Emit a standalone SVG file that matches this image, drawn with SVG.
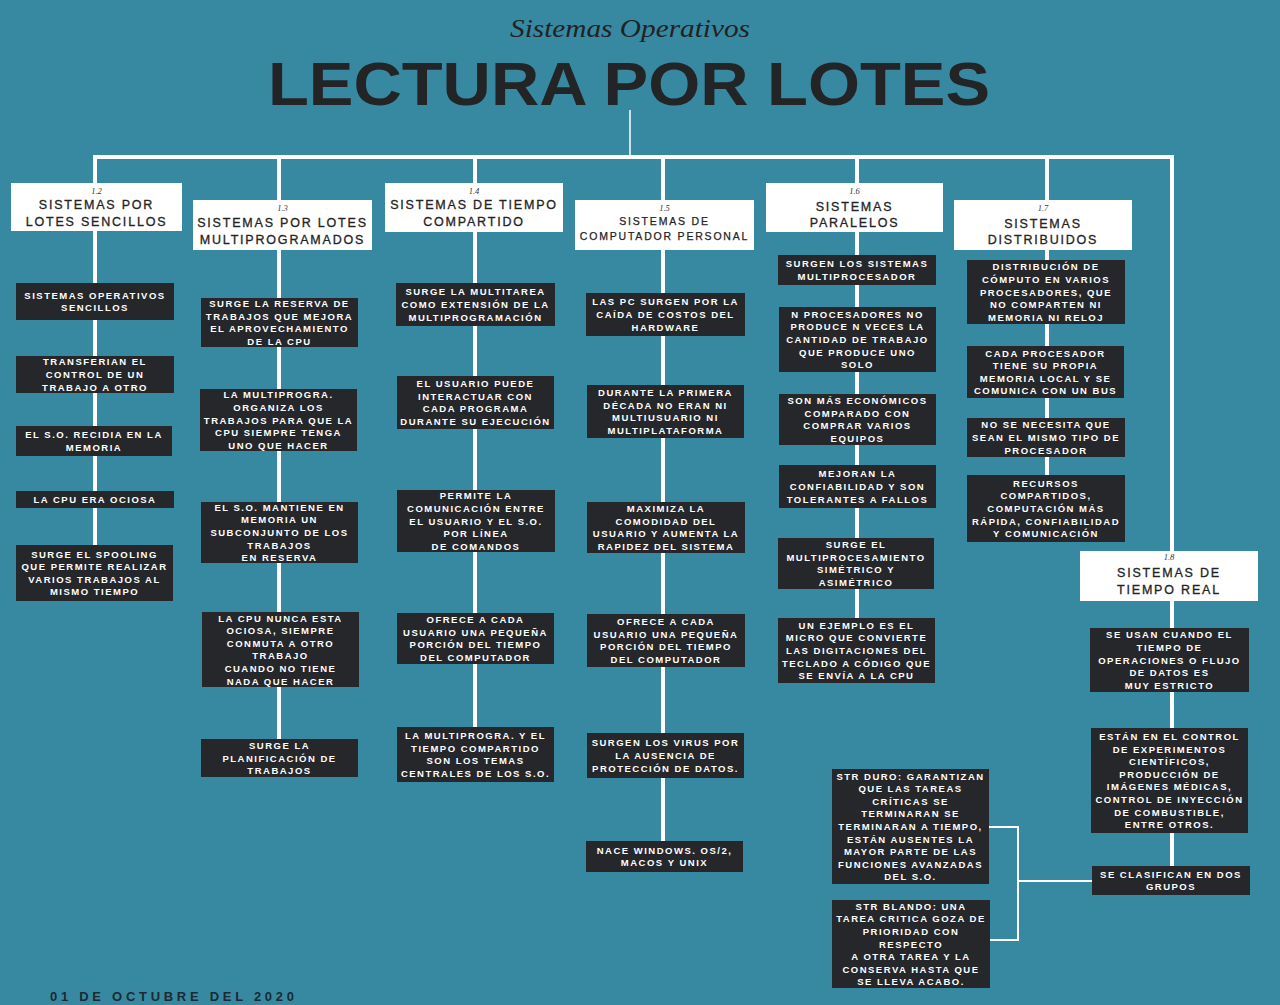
<svg xmlns="http://www.w3.org/2000/svg" width="1280" height="1005" viewBox="0 0 1280 1005">
<style>
.hdr{fill:#ffffff}
.box{fill:#25272b}
.ht{font-family:"Liberation Sans",Arial,sans-serif;font-size:12.5px;fill:#232323;stroke:#232323;stroke-width:0.3px;letter-spacing:1.8px;text-anchor:middle}
.ht2{font-family:"Liberation Sans",Arial,sans-serif;font-size:10.5px;fill:#232323;stroke:#232323;stroke-width:0.25px;letter-spacing:1.8px;text-anchor:middle}
.num{font-family:"Liberation Serif","Times New Roman",serif;font-style:italic;font-size:8.5px;fill:#333;text-anchor:middle}
.bt{font-family:"Liberation Sans",Arial,sans-serif;font-weight:bold;font-size:9.5px;fill:#ffffff;letter-spacing:1.5px;text-anchor:middle}
.ln{stroke:#ffffff;stroke-width:4;fill:none}
.thin{stroke:#ffffff;stroke-width:2;fill:none}
</style>
<rect x="0" y="0" width="1280" height="1005" fill="#3789a2"/>
<g id="title">
<text x="630" y="37" font-family="Liberation Serif,'Times New Roman',serif" font-style="italic" font-size="25" fill="#222" text-anchor="middle" textLength="240" lengthAdjust="spacingAndGlyphs">Sistemas Operativos</text>
<text x="268" y="105" font-family="Liberation Sans,Arial,sans-serif" font-weight="bold" font-size="61" fill="#222426" textLength="722" lengthAdjust="spacingAndGlyphs">LECTURA POR LOTES</text>
</g>
<g id="connectors">
<line class="thin" x1="630" y1="110" x2="630" y2="156" style="stroke-width:1.5"/>
<line class="ln" x1="93" y1="157" x2="1174" y2="157"/>
<line class="ln" x1="95" y1="157" x2="95" y2="590"/>
<line class="ln" x1="279" y1="157" x2="279" y2="770"/>
<line class="ln" x1="475" y1="157" x2="475" y2="770"/>
<line class="ln" x1="663" y1="157" x2="663" y2="860"/>
<line class="ln" x1="857" y1="157" x2="857" y2="670"/>
<line class="ln" x1="1047" y1="157" x2="1047" y2="530"/>
<line class="ln" x1="1172" y1="157" x2="1172" y2="880"/>
<polyline class="thin" points="989,827 1018,827 1018,940 990,940"/>
<line class="thin" x1="1018" y1="881" x2="1092" y2="881"/>
</g>
<g id="h12"><rect class="hdr" x="11" y="183" width="171" height="48"/><text class="num" x="96.5" y="194">1.2</text><text class="ht" x="96.5" y="209">SISTEMAS POR</text><text class="ht" x="96.5" y="226">LOTES SENCILLOS</text></g>
<g id="h13"><rect class="hdr" x="193" y="200" width="179" height="50"/><text class="num" x="282.5" y="211">1.3</text><text class="ht" x="282.5" y="227">SISTEMAS POR LOTES</text><text class="ht" x="282.5" y="244">MULTIPROGRAMADOS</text></g>
<g id="h14"><rect class="hdr" x="385" y="183" width="178" height="49"/><text class="num" x="474" y="194">1.4</text><text class="ht" x="474" y="209">SISTEMAS DE TIEMPO</text><text class="ht" x="474" y="226">COMPARTIDO</text></g>
<g id="h15"><rect class="hdr" x="575" y="200" width="179" height="50"/><text class="num" x="664.5" y="211">1.5</text><text class="ht2" x="664.5" y="225">SISTEMAS DE</text><text class="ht2" x="664.5" y="240">COMPUTADOR PERSONAL</text></g>
<g id="h16"><rect class="hdr" x="766" y="183" width="177" height="49"/><text class="num" x="854.5" y="194">1.6</text><text class="ht" x="854.5" y="211">SISTEMAS</text><text class="ht" x="854.5" y="227">PARALELOS</text></g>
<g id="h17"><rect class="hdr" x="954" y="200" width="178" height="50"/><text class="num" x="1043" y="211">1.7</text><text class="ht" x="1043" y="228">SISTEMAS</text><text class="ht" x="1043" y="244">DISTRIBUIDOS</text></g>
<g id="h18"><rect class="hdr" x="1080" y="551" width="178" height="50"/><text class="num" x="1169" y="560">1.8</text><text class="ht" x="1169" y="577">SISTEMAS DE</text><text class="ht" x="1169" y="594">TIEMPO REAL</text></g>

<g id="c1b1"><rect class="box" x="16" y="283" width="158" height="37"/><text class="bt" x="95" y="298.7"><tspan x="95">SISTEMAS OPERATIVOS</tspan><tspan x="95" dy="12.6">SENCILLOS</tspan></text></g>
<g id="c1b2"><rect class="box" x="16" y="356" width="158" height="37"/><text class="bt" x="95" y="365.4"><tspan x="95">TRANSFERIAN EL</tspan><tspan x="95" dy="12.6">CONTROL DE UN</tspan><tspan x="95" dy="12.6">TRABAJO A OTRO</tspan></text></g>
<g id="c1b3"><rect class="box" x="16" y="426" width="156" height="30"/><text class="bt" x="94" y="438.2"><tspan x="94">EL S.O. RECIDIA EN LA</tspan><tspan x="94" dy="12.6">MEMORIA</tspan></text></g>
<g id="c1b4"><rect class="box" x="16" y="491" width="158" height="17"/><text class="bt" x="95" y="503">LA CPU ERA OCIOSA</text></g>
<g id="c1b5"><rect class="box" x="16" y="545" width="157" height="56"/><text class="bt" x="94.5" y="557.6"><tspan x="94.5">SURGE EL SPOOLING</tspan><tspan x="94.5" dy="12.6">QUE PERMITE REALIZAR</tspan><tspan x="94.5" dy="12.6">VARIOS TRABAJOS AL</tspan><tspan x="94.5" dy="12.6">MISMO TIEMPO</tspan></text></g>

<g id="c2b1"><rect class="box" x="201" y="298" width="157" height="49"/><text class="bt" y="307.1"><tspan x="279.5">SURGE LA RESERVA DE</tspan><tspan x="279.5" dy="12.6">TRABAJOS QUE MEJORA</tspan><tspan x="279.5" dy="12.6">EL APROVECHAMIENTO</tspan><tspan x="279.5" dy="12.6">DE LA CPU</tspan></text></g>
<g id="c2b2"><rect class="box" x="200" y="389" width="157" height="62"/><text class="bt" y="398.3"><tspan x="278.5">LA MULTIPROGRA.</tspan><tspan x="278.5" dy="12.6">ORGANIZA LOS</tspan><tspan x="278.5" dy="12.6">TRABAJOS PARA QUE LA</tspan><tspan x="278.5" dy="12.6">CPU SIEMPRE TENGA</tspan><tspan x="278.5" dy="12.6">UNO QUE HACER</tspan></text></g>
<g id="c2b3"><rect class="box" x="201" y="502" width="157" height="61"/><text class="bt" y="510.8"><tspan x="279.5">EL S.O. MANTIENE EN</tspan><tspan x="279.5" dy="12.6">MEMORIA UN</tspan><tspan x="279.5" dy="12.6">SUBCONJUNTO DE LOS</tspan><tspan x="279.5" dy="12.6">TRABAJOS</tspan><tspan x="279.5" dy="12.6">EN RESERVA</tspan></text></g>
<g id="c2b4"><rect class="box" x="202" y="612" width="157" height="75"/><text class="bt" y="621.5"><tspan x="280.5">LA CPU NUNCA ESTA</tspan><tspan x="280.5" dy="12.6">OCIOSA, SIEMPRE</tspan><tspan x="280.5" dy="12.6">CONMUTA A OTRO</tspan><tspan x="280.5" dy="12.6">TRABAJO</tspan><tspan x="280.5" dy="12.6">CUANDO NO TIENE</tspan><tspan x="280.5" dy="12.6">NADA QUE HACER</tspan></text></g>
<g id="c2b5"><rect class="box" x="201" y="739" width="157" height="38"/><text class="bt" y="748.9"><tspan x="279.5">SURGE LA</tspan><tspan x="279.5" dy="12.6">PLANIFICACIÓN DE</tspan><tspan x="279.5" dy="12.6">TRABAJOS</tspan></text></g>

<g id="c3b1"><rect class="box" x="396" y="283" width="159" height="43"/><text class="bt" y="295.4"><tspan x="475.5">SURGE LA MULTITAREA</tspan><tspan x="475.5" dy="12.6">COMO EXTENSIÓN DE LA</tspan><tspan x="475.5" dy="12.6">MULTIPROGRAMACIÓN</tspan></text></g>
<g id="c3b2"><rect class="box" x="397" y="376" width="157" height="53"/><text class="bt" y="387.1"><tspan x="475.5">EL USUARIO PUEDE</tspan><tspan x="475.5" dy="12.6">INTERACTUAR CON</tspan><tspan x="475.5" dy="12.6">CADA PROGRAMA</tspan><tspan x="475.5" dy="12.6">DURANTE SU EJECUCIÓN</tspan></text></g>
<g id="c3b3"><rect class="box" x="397" y="490" width="158" height="62"/><text class="bt" y="499.3"><tspan x="476">PERMITE LA</tspan><tspan x="476" dy="12.6">COMUNICACIÓN ENTRE</tspan><tspan x="476" dy="12.6">EL USUARIO Y EL S.O.</tspan><tspan x="476" dy="12.6">POR LÍNEA</tspan><tspan x="476" dy="12.6">DE COMANDOS</tspan></text></g>
<g id="c3b4"><rect class="box" x="397" y="613" width="157" height="51"/><text class="bt" y="623.1"><tspan x="475.5">OFRECE A CADA</tspan><tspan x="475.5" dy="12.6">USUARIO UNA PEQUEÑA</tspan><tspan x="475.5" dy="12.6">PORCIÓN DEL TIEMPO</tspan><tspan x="475.5" dy="12.6">DEL COMPUTADOR</tspan></text></g>
<g id="c3b5"><rect class="box" x="397" y="727" width="157" height="55"/><text class="bt" y="739.1"><tspan x="475.5">LA MULTIPROGRA. Y EL</tspan><tspan x="475.5" dy="12.6">TIEMPO COMPARTIDO</tspan><tspan x="475.5" dy="12.6">SON LOS TEMAS</tspan><tspan x="475.5" dy="12.6">CENTRALES DE LOS S.O.</tspan></text></g>

<g id="c4b1"><rect class="box" x="586" y="293" width="159" height="43"/><text class="bt" y="305.4"><tspan x="665.5">LAS PC SURGEN POR LA</tspan><tspan x="665.5" dy="12.6">CAÍDA DE COSTOS DEL</tspan><tspan x="665.5" dy="12.6">HARDWARE</tspan></text></g>
<g id="c4b2"><rect class="box" x="587" y="385" width="157" height="53"/><text class="bt" y="396.1"><tspan x="665.5">DURANTE LA PRIMERA</tspan><tspan x="665.5" dy="12.6">DÉCADA NO ERAN NI</tspan><tspan x="665.5" dy="12.6">MULTIUSUARIO NI</tspan><tspan x="665.5" dy="12.6">MULTIPLATAFORMA</tspan></text></g>
<g id="c4b3"><rect class="box" x="587" y="502" width="158" height="51"/><text class="bt" y="512.1"><tspan x="666">MAXIMIZA LA</tspan><tspan x="666" dy="12.6">COMODIDAD DEL</tspan><tspan x="666" dy="12.6">USUARIO Y AUMENTA LA</tspan><tspan x="666" dy="12.6">RAPIDEZ DEL SISTEMA</tspan></text></g>
<g id="c4b4"><rect class="box" x="587" y="614" width="158" height="53"/><text class="bt" y="625.1"><tspan x="666">OFRECE A CADA</tspan><tspan x="666" dy="12.6">USUARIO UNA PEQUEÑA</tspan><tspan x="666" dy="12.6">PORCIÓN DEL TIEMPO</tspan><tspan x="666" dy="12.6">DEL COMPUTADOR</tspan></text></g>
<g id="c4b5"><rect class="box" x="587" y="733" width="157" height="45"/><text class="bt" y="746.4"><tspan x="665.5">SURGEN LOS VIRUS POR</tspan><tspan x="665.5" dy="12.6">LA AUSENCIA DE</tspan><tspan x="665.5" dy="12.6">PROTECCIÓN DE DATOS.</tspan></text></g>
<g id="c4b6"><rect class="box" x="586" y="841" width="157" height="31"/><text class="bt" y="853.7"><tspan x="664.5">NACE WINDOWS. OS/2,</tspan><tspan x="664.5" dy="12.6">MACOS Y UNIX</tspan></text></g>

<g id="c5b1"><rect class="box" x="778" y="255" width="158" height="30"/><text class="bt" y="267.2"><tspan x="857">SURGEN LOS SISTEMAS</tspan><tspan x="857" dy="12.6">MULTIPROCESADOR</tspan></text></g>
<g id="c5b2"><rect class="box" x="779" y="307" width="157" height="65"/><text class="bt" y="317.8"><tspan x="857.5">N PROCESADORES NO</tspan><tspan x="857.5" dy="12.6">PRODUCE N VECES LA</tspan><tspan x="857.5" dy="12.6">CANTIDAD DE TRABAJO</tspan><tspan x="857.5" dy="12.6">QUE PRODUCE UNO</tspan><tspan x="857.5" dy="12.6">SOLO</tspan></text></g>
<g id="c5b3"><rect class="box" x="779" y="394" width="157" height="51"/><text class="bt" y="404.1"><tspan x="857.5">SON MÁS ECONÓMICOS</tspan><tspan x="857.5" dy="12.6">COMPARADO CON</tspan><tspan x="857.5" dy="12.6">COMPRAR VARIOS</tspan><tspan x="857.5" dy="12.6">EQUIPOS</tspan></text></g>
<g id="c5b4"><rect class="box" x="779" y="465" width="157" height="43"/><text class="bt" y="477.4"><tspan x="857.5">MEJORAN LA</tspan><tspan x="857.5" dy="12.6">CONFIABILIDAD Y SON</tspan><tspan x="857.5" dy="12.6">TOLERANTES A FALLOS</tspan></text></g>
<g id="c5b5"><rect class="box" x="778" y="538" width="156" height="51"/><text class="bt" y="548.1"><tspan x="856">SURGE EL</tspan><tspan x="856" dy="12.6">MULTIPROCESAMIENTO</tspan><tspan x="856" dy="12.6">SIMÉTRICO Y</tspan><tspan x="856" dy="12.6">ASIMÉTRICO</tspan></text></g>
<g id="c5b6"><rect class="box" x="778" y="618" width="157" height="65"/><text class="bt" y="628.8"><tspan x="856.5">UN EJEMPLO ES EL</tspan><tspan x="856.5" dy="12.6">MICRO QUE CONVIERTE</tspan><tspan x="856.5" dy="12.6">LAS DIGITACIONES DEL</tspan><tspan x="856.5" dy="12.6">TECLADO A CÓDIGO QUE</tspan><tspan x="856.5" dy="12.6">SE ENVÍA A LA CPU</tspan></text></g>

<g id="c6b1"><rect class="box" x="967" y="260" width="158" height="64"/><text class="bt" y="270.3"><tspan x="1046">DISTRIBUCIÓN DE</tspan><tspan x="1046" dy="12.6">CÓMPUTO EN VARIOS</tspan><tspan x="1046" dy="12.6">PROCESADORES, QUE</tspan><tspan x="1046" dy="12.6">NO COMPARTEN NI</tspan><tspan x="1046" dy="12.6">MEMORIA NI RELOJ</tspan></text></g>
<g id="c6b2"><rect class="box" x="967" y="346" width="157" height="52"/><text class="bt" y="356.6"><tspan x="1045.5">CADA PROCESADOR</tspan><tspan x="1045.5" dy="12.6">TIENE SU PROPIA</tspan><tspan x="1045.5" dy="12.6">MEMORIA LOCAL Y SE</tspan><tspan x="1045.5" dy="12.6">COMUNICA CON UN BUS</tspan></text></g>
<g id="c6b3"><rect class="box" x="967" y="418" width="158" height="39"/><text class="bt" y="428.4"><tspan x="1046">NO SE NECESITA QUE</tspan><tspan x="1046" dy="12.6">SEAN EL MISMO TIPO DE</tspan><tspan x="1046" dy="12.6">PROCESADOR</tspan></text></g>
<g id="c6b4"><rect class="box" x="967" y="475" width="158" height="67"/><text class="bt" y="486.8"><tspan x="1046">RECURSOS</tspan><tspan x="1046" dy="12.6">COMPARTIDOS,</tspan><tspan x="1046" dy="12.6">COMPUTACIÓN MÁS</tspan><tspan x="1046" dy="12.6">RÁPIDA, CONFIABILIDAD</tspan><tspan x="1046" dy="12.6">Y COMUNICACIÓN</tspan></text></g>

<g id="c7b1"><rect class="box" x="1090" y="628" width="159" height="64"/><text class="bt" y="638.3"><tspan x="1169.5">SE USAN CUANDO EL</tspan><tspan x="1169.5" dy="12.6">TIEMPO DE</tspan><tspan x="1169.5" dy="12.6">OPERACIONES O FLUJO</tspan><tspan x="1169.5" dy="12.6">DE DATOS ES</tspan><tspan x="1169.5" dy="12.6">MUY ESTRICTO</tspan></text></g>
<g id="c7b2"><rect class="box" x="1091" y="728" width="157" height="105"/><text class="bt" y="739.9"><tspan x="1169.5">ESTÁN EN EL CONTROL</tspan><tspan x="1169.5" dy="12.6">DE EXPERIMENTOS</tspan><tspan x="1169.5" dy="12.6">CIENTÍFICOS,</tspan><tspan x="1169.5" dy="12.6">PRODUCCIÓN DE</tspan><tspan x="1169.5" dy="12.6">IMÁGENES MÉDICAS,</tspan><tspan x="1169.5" dy="12.6">CONTROL DE INYECCIÓN</tspan><tspan x="1169.5" dy="12.6">DE COMBUSTIBLE,</tspan><tspan x="1169.5" dy="12.6">ENTRE OTROS.</tspan></text></g>
<g id="c7b3"><rect class="box" x="1092" y="866" width="158" height="29"/><text class="bt" y="877.7"><tspan x="1171">SE CLASIFICAN EN DOS</tspan><tspan x="1171" dy="12.6">GRUPOS</tspan></text></g>
<g id="strduro"><rect class="box" x="832" y="769" width="157" height="115"/><text class="bt" y="779.6"><tspan x="910.5">STR DURO: GARANTIZAN</tspan><tspan x="910.5" dy="12.6">QUE LAS TAREAS</tspan><tspan x="910.5" dy="12.6">CRÍTICAS SE</tspan><tspan x="910.5" dy="12.6">TERMINARAN SE</tspan><tspan x="910.5" dy="12.6">TERMINARAN A TIEMPO,</tspan><tspan x="910.5" dy="12.6">ESTÁN AUSENTES LA</tspan><tspan x="910.5" dy="12.6">MAYOR PARTE DE LAS</tspan><tspan x="910.5" dy="12.6">FUNCIONES AVANZADAS</tspan><tspan x="910.5" dy="12.6">DEL S.O.</tspan></text></g>
<g id="strblando"><rect class="box" x="832" y="900" width="158" height="88"/><text class="bt" y="909.7"><tspan x="911">STR BLANDO: UNA</tspan><tspan x="911" dy="12.6">TAREA CRITICA GOZA DE</tspan><tspan x="911" dy="12.6">PRIORIDAD CON</tspan><tspan x="911" dy="12.6">RESPECTO</tspan><tspan x="911" dy="12.6">A OTRA TAREA Y LA</tspan><tspan x="911" dy="12.6">CONSERVA HASTA QUE</tspan><tspan x="911" dy="12.6">SE LLEVA ACABO.</tspan></text></g>

<g id="date"><text x="50" y="1001" font-family="Liberation Sans,Arial,sans-serif" font-weight="bold" font-size="13" fill="#1c2a32" textLength="244" lengthAdjust="spacing">01 DE OCTUBRE DEL 2020</text></g>
</svg>
